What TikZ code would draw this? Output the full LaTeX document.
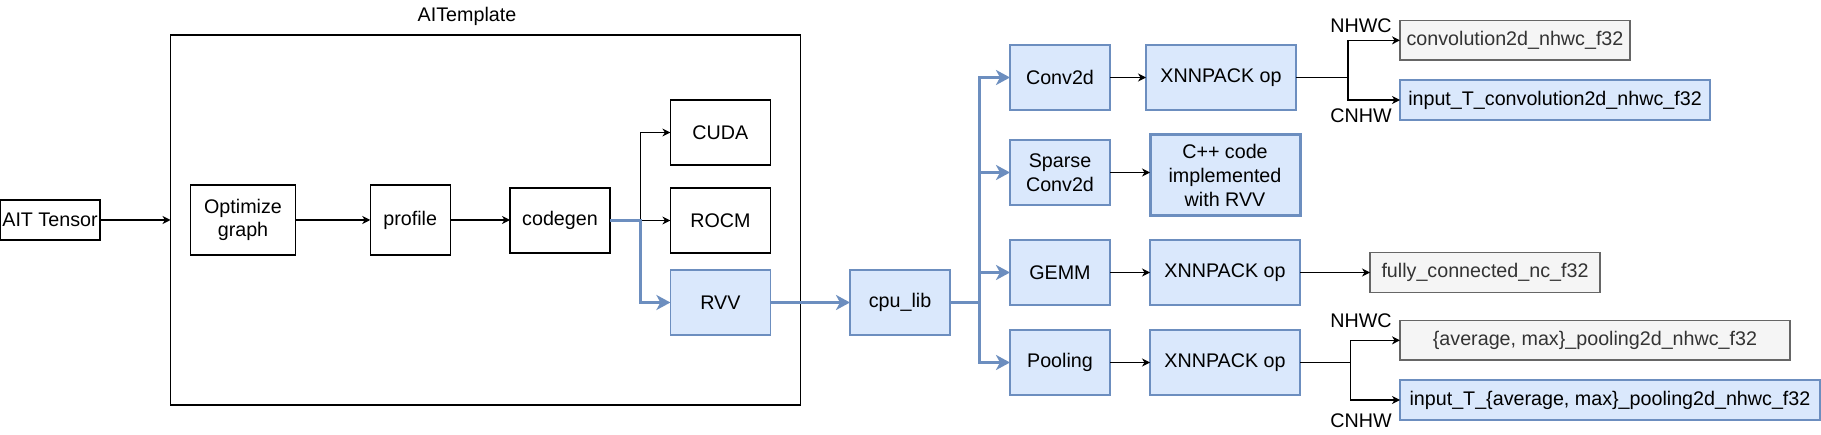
\documentclass[tikz,border=0pt]{standalone}
\usepackage{fontspec}
\setmainfont{Liberation Sans}
\usetikzlibrary{arrows.meta}
\definecolor{bfill}{HTML}{DAE8FC}
\definecolor{bline}{HTML}{6C8EBF}
\definecolor{gfill}{HTML}{F5F5F5}
\definecolor{gline}{HTML}{666666}
\definecolor{gtext}{HTML}{333333}
\begin{document}
\begin{tikzpicture}[x=1pt,y=-1pt,
  every node/.style={font=\fontsize{19.7}{23.7}\selectfont, inner sep=0pt, outer sep=0pt},
  plainbox/.style={draw=black, line width=1.3pt, fill=white, align=center},
  bluebox/.style={draw=bline, line width=1.3pt, fill=bfill, align=center},
  graybox/.style={draw=gline, line width=1.3pt, fill=gfill, text=gtext, align=center},
  thinarrow/.style={draw=black, line width=1.3pt, -{Stealth[length=8pt,width=8pt,inset=2.5pt]}},
  thickarrow/.style={draw=bline, line width=3.4pt, -{Stealth[length=14pt,width=15pt,inset=4pt]}},
  sq/.style={minimum width=100, minimum height=65},
  wide/.style={minimum width=150, minimum height=65}]
\path[fill=white, use as bounding box] (0,0) rectangle (1821,435);

% AITemplate container
\node[draw=black, line width=1.3pt, minimum width=630.2, minimum height=370] (ait) at (485.6,220) {};
\node (title) at (467,16) {AITemplate};
\node[plainbox, minimum width=100, minimum height=40] (tensor) at (50,220) {AIT Tensor};
\node[plainbox, minimum width=105, minimum height=70] (opt) at (243,220) {Optimize\\graph};
\node[plainbox, minimum width=80, minimum height=70] (prof) at (410.25,220) {profile};
\node[plainbox, sq] (cg) at (560,220.5) {codegen};
\node[plainbox, sq] (cuda) at (720.4,132.5) {CUDA};
\node[plainbox, sq] (rocm) at (720.4,220.5) {ROCM};
\node[bluebox, sq] (rvv) at (720.4,302.5) {RVV};

\node[bluebox, sq] (cpu) at (900,302.5) {cpu\_lib};

\node[bluebox, sq] (conv) at (1060,77.5) {Conv2d};
\node[bluebox, sq] (sparse) at (1060,172.5) {Sparse\\Conv2d};
\node[bluebox, sq] (gemm) at (1060,272.5) {GEMM};
\node[bluebox, sq] (pool) at (1060,362.5) {Pooling};

\node[bluebox, wide] (xconv) at (1221,77.5) {XNNPACK op};
\node[bluebox, line width=3pt, minimum width=150, minimum height=81] (cpp) at (1225,175.5) {C++ code\\implemented\\with RVV};
\node[bluebox, wide] (xgemm) at (1225,272.5) {XNNPACK op};
\node[bluebox, wide] (xpool) at (1225,362.5) {XNNPACK op};

\node[graybox, minimum width=230, minimum height=39.3] (c1) at (1515,40.35) {convolution2d\_nhwc\_f32};
\node[bluebox, minimum width=310, minimum height=40] (c2) at (1555,100) {input\_T\_convolution2d\_nhwc\_f32};
\node[graybox, minimum width=230, minimum height=40] (fc) at (1485,272.5) {fully\_connected\_nc\_f32};
\node[graybox, minimum width=390, minimum height=39.3] (p1) at (1595,340.35) {\{average, max\}\_pooling2d\_nhwc\_f32};
\node[bluebox, minimum width=420, minimum height=40] (p2) at (1610,400) {input\_T\_\{average, max\}\_pooling2d\_nhwc\_f32};

\node (l1) at (1361,26) {NHWC};
\node (l2) at (1361,116) {CNHW};
\node (l3) at (1361,321) {NHWC};
\node (l4) at (1361,421) {CNHW};

% thin connectors
\draw[thinarrow] (tensor.east) -- (ait.west);
\draw[thinarrow] (opt.east) -- (prof.west);
\draw[thinarrow] (prof.east) -- (prof.east -| cg.west);
\draw[thinarrow] (cg.east) -- ++(30.6,0) |- (cuda.west);
\draw[thinarrow] (cg.east) -- (rocm.west);
\draw[thinarrow] (conv.east) -- (xconv.west);
\draw[thinarrow] (sparse.east) -- (sparse.east -| cpp.west);
\draw[thinarrow] (gemm.east) -- (xgemm.west);
\draw[thinarrow] (pool.east) -- (xpool.west);
\draw[thinarrow] (xconv.east) -- ++(52,0) |- (c1.west);
\draw[thinarrow] (xconv.east) -- ++(52,0) |- (c2.west);
\draw[thinarrow] (xgemm.east) -- (xgemm.east -| fc.west);
\draw[thinarrow] (xpool.east) -- ++(50.6,0) |- (p1.west);
\draw[thinarrow] (xpool.east) -- ++(50.6,0) |- (p2.west);

% thick blue connectors
\draw[thickarrow] (cg.east) -- ++(30.6,0) |- (rvv.west);
\draw[thickarrow] (rvv.east) -- (cpu.west);
\draw[thickarrow] (cpu.east) -- ++(29.5,0) |- (conv.west);
\draw[thickarrow] (cpu.east) -- ++(29.5,0) |- (sparse.west);
\draw[thickarrow] (cpu.east) -- ++(29.5,0) |- (gemm.west);
\draw[thickarrow] (cpu.east) -- ++(29.5,0) |- (pool.west);
\end{tikzpicture}
\end{document}
